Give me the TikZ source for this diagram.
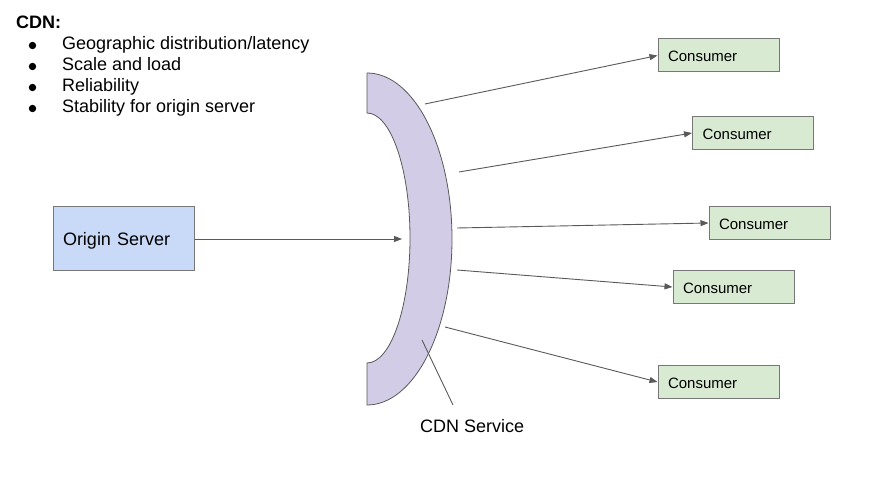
\documentclass[tikz,border=0pt]{standalone}
\usepackage{fontspec}
\setmainfont{Liberation Sans}
\usetikzlibrary{arrows.meta}
\definecolor{cdnfill}{HTML}{D3CCE6}
\definecolor{consfill}{HTML}{D9EAD3}
\definecolor{origfill}{HTML}{C9DAF8}
\definecolor{edge}{HTML}{595959}
\definecolor{boxline}{HTML}{777777}
\tikzset{
  consumer/.style={draw=boxline, fill=consfill, line width=1pt, text width=101pt, inner xsep=10pt, inner ysep=0pt, minimum height=33pt, text height=13pt, text depth=0pt, align=left, font=\fontsize{15}{18}\selectfont},
  origin/.style={draw=boxline, fill=origfill, line width=1pt, text width=121pt, inner xsep=10pt, inner ysep=0pt, minimum height=63pt, text height=14pt, text depth=0pt, align=left, font=\fontsize{18}{21}\selectfont},
  conn/.style={draw=edge, line width=0.9pt, -{Triangle[length=8pt,width=6pt]}},
  listtext/.style={anchor=base west, inner sep=0pt, font=\fontsize{18}{21}\selectfont},
}
\begin{document}
\begin{tikzpicture}[x=1pt,y=-1pt]
\useasboundingbox (0,0) rectangle (888,478);
% list
\node[listtext, font=\fontsize{18}{21}\selectfont\bfseries] (title) at (16,29) {CDN:};
\node[listtext] (l1) at (62,50) {Geographic distribution/latency};
\node[listtext] (l2) at (62,71) {Scale and load};
\node[listtext] (l3) at (62,92) {Reliability};
\node[listtext] (l4) at (62,113) {Stability for origin server};
\foreach \yy in {45.5,66.5,87.5,108.5} \fill (32.5,\yy) circle (3.7pt);
% CDN shape
\draw[draw=edge, fill=cdnfill, line width=0.8pt]
  (367,73) arc[start angle=-90, end angle=90, x radius=85, y radius=166]
  -- (367,363) arc[start angle=90, end angle=-90, x radius=43, y radius=125]
  -- cycle;
\node[anchor=base west, inner sep=0pt, font=\fontsize{18}{21}\selectfont] (cdnlabel) at (420,432) {CDN Service};
\coordinate (ptr) at (422,340);
\coordinate (ptrend) at (453,405);
\draw[draw=edge, line width=0.9pt] (ptrend) -- (ptr);
% origin
\node[origin] (origin) at (123.5,238.5) {Origin Server};
\coordinate (cdnin) at (402,239);
\draw[conn] (origin.east |- cdnin) -- (cdnin);
% consumers
\node[consumer] (c1) at (718.5,55.5) {Consumer};
\node[consumer] (c2) at (753,133) {Consumer};
\node[consumer] (c3) at (769.5,223) {Consumer};
\node[consumer] (c4) at (733.5,287) {Consumer};
\node[consumer] (c5) at (718.5,382) {Consumer};
\coordinate (o1) at (425,104);
\coordinate (o2) at (459,172);
\coordinate (o3) at (457,228);
\coordinate (o4) at (457,270);
\coordinate (o5) at (445,327);
\draw[conn] (o1) -- (c1.west);
\draw[conn] (o2) -- (c2.west);
\draw[conn] (o3) -- (c3.west);
\draw[conn] (o4) -- (c4.west);
\draw[conn] (o5) -- (c5.west);
\end{tikzpicture}
\end{document}
